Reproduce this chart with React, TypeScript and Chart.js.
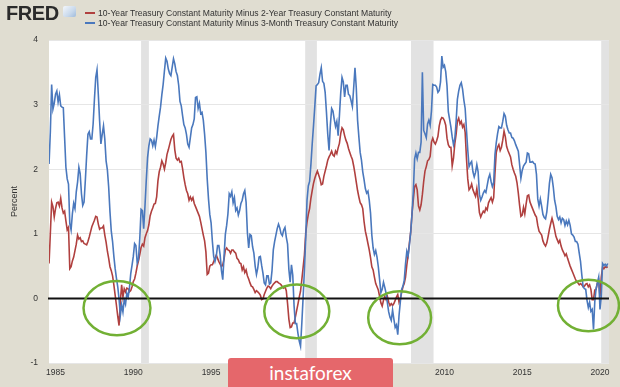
import React, { useEffect, useRef } from "react";
import { Chart, registerables } from "chart.js";

Chart.register(...registerables);

// Monthly observations starting August 1984
const START_YEAR = 1984 + 7 / 12;

const seriesNames = [
  "10-Year Treasury Constant Maturity Minus 2-Year Treasury Constant Maturity",
  "10-Year Treasury Constant Maturity Minus 3-Month Treasury Constant Maturity",
];

const spread10y2y = [
  0.54, 1.01, 1.49, 1.42, 1.26, 1.39, 1.48, 1.49, 1.43, 1.55,
  1.40, 1.32, 1.35, 1.20, 1.06, 1.10, 0.46, 0.49, 0.58, 0.64,
  0.74, 0.84, 0.98, 0.92, 0.94, 0.88, 0.89, 0.85, 0.84, 0.83,
  0.88, 0.95, 1.03, 1.11, 1.16, 1.21, 1.27, 1.26, 1.15, 1.07,
  1.09, 1.09, 1.12, 0.98, 0.87, 0.73, 0.62, 0.49, 0.43, 0.35,
  0.21, 0.05, -0.11, -0.28, -0.42, -0.04, 0.21, 0.02, 0.15, 0.10,
  0.16, 0.15, 0.10, 0.12, 0.18, 0.26, 0.30, 0.39, 0.50, 0.58,
  0.68, 0.79, 0.84, 0.81, 0.94, 1.00, 1.05, 1.14, 1.28, 1.35,
  1.40, 1.46, 1.47, 1.57, 1.82, 1.96, 2.03, 2.13, 2.08, 2.00,
  2.10, 2.23, 2.30, 2.38, 2.46, 2.51, 2.54, 2.30, 2.17, 2.14,
  2.17, 2.11, 2.12, 2.01, 1.87, 1.76, 1.67, 1.62, 1.52, 1.57,
  1.52, 1.56, 1.47, 1.42, 1.37, 1.32, 1.27, 1.18, 1.08, 0.98,
  0.89, 0.72, 0.37, 0.39, 0.50, 0.52, 0.52, 0.57, 0.62, 0.67,
  0.62, 0.57, 0.53, 0.49, 0.52, 0.61, 0.75, 0.78, 0.75, 0.74,
  0.70, 0.75, 0.75, 0.72, 0.70, 0.62, 0.60, 0.55, 0.54, 0.44,
  0.49, 0.40, 0.44, 0.35, 0.30, 0.24, 0.19, 0.18, 0.14, 0.09,
  0.12, 0.10, 0.08, 0.05, -0.02, -0.01, 0.06, 0.11, 0.16, 0.19,
  0.18, 0.15, 0.19, 0.22, 0.24, 0.26, 0.26, 0.24, 0.23, 0.21,
  0.18, 0.16, 0.18, 0.12, -0.08, -0.32, -0.45, -0.44, -0.38, -0.38,
  -0.29, -0.19, -0.09, 0.02, 0.11, 0.29, 0.48, 0.67, 1.01, 1.18,
  1.30, 1.39, 1.55, 1.67, 1.78, 1.86, 1.92, 1.97, 1.91, 1.85,
  1.76, 1.77, 1.89, 1.97, 2.05, 2.14, 2.19, 2.23, 2.28, 2.22,
  2.20, 2.28, 2.24, 2.33, 2.40, 2.55, 2.64, 2.61, 2.52, 2.45,
  2.40, 2.32, 2.26, 2.20, 2.15, 2.05, 1.93, 1.80, 1.67, 1.57,
  1.48, 1.45, 1.39, 1.19, 1.04, 0.95, 0.85, 0.75, 0.63, 0.49,
  0.44, 0.33, 0.23, 0.18, 0.13, 0.03, -0.07, -0.12, -0.03, 0.03,
  -0.02, 0.03, -0.06, -0.11, -0.08, -0.11, -0.08, -0.03, 0.02, 0.06,
  -0.06, 0.00, 0.09, 0.18, 0.23, 0.33, 0.52, 0.67, 0.86, 1.03,
  1.31, 1.53, 1.73, 1.76, 1.68, 1.43, 1.37, 1.45, 1.61, 1.81,
  1.97, 2.04, 2.13, 2.15, 2.20, 2.42, 2.48, 2.42, 2.39, 2.44,
  2.51, 2.67, 2.76, 2.80, 2.79, 2.75, 2.68, 2.48, 2.38, 2.34,
  2.34, 2.05, 2.17, 2.39, 2.54, 2.74, 2.79, 2.70, 2.74, 2.65,
  2.69, 2.57, 2.17, 1.85, 1.68, 1.71, 1.77, 1.68, 1.63, 1.58,
  1.70, 1.54, 1.33, 1.26, 1.31, 1.35, 1.33, 1.40, 1.37, 1.48,
  1.52, 1.56, 1.49, 1.56, 1.94, 2.26, 2.34, 2.38, 2.29, 2.34,
  2.45, 2.59, 2.50, 2.35, 2.29, 2.24, 2.19, 2.07, 2.00, 1.94,
  1.89, 1.79, 1.63, 1.44, 1.27, 1.29, 1.41, 1.31, 1.46, 1.59,
  1.60, 1.49, 1.44, 1.39, 1.34, 1.29, 1.26, 1.13, 1.04, 1.01,
  0.98, 0.89, 0.84, 0.81, 0.86, 0.96, 1.07, 1.16, 1.24, 1.16,
  1.06, 0.96, 0.91, 0.86, 0.90, 0.81, 0.75, 0.71, 0.66, 0.69,
  0.62, 0.56, 0.50, 0.45, 0.40, 0.35, 0.30, 0.26, 0.24, 0.21,
  0.23, 0.21, 0.18, 0.19, 0.22, 0.23, 0.18, 0.21, 0.14, -0.02,
  -0.02, 0.13, 0.14, 0.24, 0.28, 0.03, 0.33, 0.48, 0.46, 0.49,
  0.48, 0.49,
];

const spread10y3m = [
  2.08, 2.58, 3.31, 2.93, 3.02, 3.16, 3.21, 3.04, 3.15, 2.98,
  2.96, 2.95, 2.49, 2.03, 1.85, 1.77, 1.16, 1.06, 1.31, 1.47,
  1.39, 1.65, 1.80, 2.03, 1.93, 1.62, 1.44, 1.49, 1.83, 2.21,
  2.54, 2.58, 2.47, 2.47, 2.70, 3.08, 3.42, 3.54, 3.16, 2.75,
  2.39, 2.54, 2.67, 2.47, 2.13, 1.99, 1.72, 1.34, 1.04, 0.88,
  0.65, 0.46, 0.31, 0.18, -0.01, -0.26, -0.10, -0.21, -0.02, -0.09,
  0.08, 0.02, 0.16, 0.38, 0.51, 0.65, 0.85, 0.82, 0.55, 0.61,
  0.93, 1.38, 1.36, 1.08, 1.43, 1.83, 2.18, 2.36, 2.47, 2.45,
  2.36, 2.45, 2.35, 2.49, 2.67, 2.82, 2.96, 3.15, 3.31, 3.52,
  3.72, 3.67, 3.55, 3.48, 3.45, 3.58, 3.71, 3.63, 3.51, 3.45,
  3.30, 3.05, 2.98, 2.83, 2.69, 2.64, 2.54, 2.39, 2.34, 2.49,
  2.64, 2.69, 2.78, 3.11, 3.12, 2.94, 3.02, 2.86, 2.88, 2.76,
  2.54, 2.26, 1.85, 1.54, 1.30, 1.17, 0.88, 0.65, 0.57, 0.65,
  0.82, 0.82, 0.67, 0.43, 0.29, 0.65, 0.99, 1.13, 1.31, 1.62,
  1.58, 1.65, 1.48, 1.56, 1.36, 1.40, 1.29, 1.36, 1.47, 1.52,
  1.62, 1.67, 1.49, 1.02, 0.78, 0.99, 0.97, 0.80, 0.70, 0.50,
  0.37, 0.47, 0.64, 0.65, 0.51, 0.39, 0.24, 0.21, 0.35, 0.35,
  0.22, 0.24, 0.43, 0.75, 0.88, 0.98, 1.08, 1.15, 1.09, 1.00,
  0.97, 1.06, 1.10, 0.95, 0.84, 0.45, 0.25, 0.52, 0.36, -0.11,
  -0.39, -0.39, -0.54, -0.66, -0.74, -0.38, 0.02, 0.44, 0.93, 1.52,
  1.74, 1.81, 2.07, 2.39, 2.67, 2.97, 3.29, 3.31, 3.34, 3.47,
  3.57, 3.36, 3.33, 3.19, 2.88, 2.54, 2.29, 2.68, 2.94, 2.90,
  2.77, 2.66, 2.74, 2.52, 2.83, 3.18, 3.42, 3.35, 3.12, 3.30,
  3.30, 3.16, 3.14, 3.06, 2.97, 3.26, 3.57, 3.26, 2.76, 2.50,
  2.26, 2.14, 1.96, 1.84, 1.70, 1.63, 1.66, 1.52, 1.32, 0.98,
  0.78, 0.68, 0.74, 0.64, 0.49, 0.29, 0.09, 0.14, 0.25, 0.17,
  0.08, -0.07, -0.21, -0.29, -0.34, -0.18, -0.32, -0.45, -0.41, -0.56,
  -0.26, -0.05, 0.14, 0.19, 0.28, 0.54, 0.73, 0.66, 0.83, 1.03,
  1.31, 1.65, 2.16, 2.25, 2.16, 2.26, 2.26, 2.42, 3.50, 2.60,
  2.55, 2.49, 2.70, 2.76, 2.68, 2.90, 3.31, 3.30, 3.30, 3.27,
  3.19, 3.22, 3.35, 3.75, 3.58, 3.61, 3.51, 3.29, 2.89, 2.77,
  2.65, 2.50, 2.38, 2.47, 2.73, 3.08, 3.21, 3.30, 3.34, 3.24,
  3.07, 2.94, 2.61, 2.30, 2.04, 2.09, 2.12, 1.96, 1.88, 1.95,
  2.07, 1.96, 1.61, 1.52, 1.57, 1.63, 1.67, 1.64, 1.75, 1.86,
  1.92, 1.81, 1.73, 1.79, 2.23, 2.41, 2.55, 2.66, 2.64, 2.64,
  2.74, 2.86, 2.82, 2.68, 2.61, 2.56, 2.56, 2.49, 2.48, 2.44,
  2.38, 2.33, 2.28, 2.07, 1.86, 1.98, 2.05, 2.08, 2.11, 2.25,
  2.24, 2.11, 2.11, 2.12, 2.09, 2.08, 1.92, 1.54, 1.43, 1.54,
  1.43, 1.30, 1.25, 1.23, 1.34, 1.54, 1.78, 1.92, 1.87, 1.72,
  1.52, 1.42, 1.27, 1.22, 1.26, 1.17, 1.24, 1.22, 1.13, 1.20,
  1.14, 1.21, 1.13, 1.00, 0.98, 0.95, 0.88, 0.88, 0.84, 0.70,
  0.57, 0.36, 0.18, 0.15, 0.14, -0.03, -0.14, -0.06, -0.20, -0.17,
  -0.48, -0.05, 0.15, 0.24, 0.33, -0.17, 0.03, 0.54, 0.51, 0.53,
  0.50, 0.54,
];

const xTickYears = [1985, 1990, 1995, 2000, 2005, 2010, 2015, 2020];
const yTickValues = [-1, 0, 1, 2, 3, 4];

// Recession periods (decimal years)
const recessionStarts = [1990.5, 2001.05, 2007.85, 2020.08];
const recessionEnds = [1991.0, 2001.8, 2009.3, 2020.7];

// Highlight ellipses around inversions: centre year, centre value, half-width (years), half-height (pct)
const highlightYears = [1988.95, 2000.51, 2007.12, 2019.26];
const highlightValues = [-0.15, -0.2, -0.3, -0.11];
const highlightHalfWidths = [2.15, 2.09, 2.02, 1.96];
const highlightHalfHeights = [0.42, 0.415, 0.41, 0.4];

const X_MIN = 1984.58;
const X_MAX = 2020.58;

const RED = "#b0403f";
const BLUE = "#4a78bd";
const FONT = "'Liberation Sans', Arial, sans-serif";

const toPoints = (arr: number[]) =>
  arr.map((v, i) => ({ x: START_YEAR + i / 12, y: v }));

const decorPlugin = {
  id: "fredDecor",
  beforeDraw(chart: any) {
    const { ctx, chartArea, scales } = chart;
    const { left, right, top, bottom } = chartArea;
    ctx.save();
    ctx.fillStyle = "#ffffff";
    ctx.fillRect(left, top, right - left, bottom - top);
    ctx.fillStyle = "#e2e2e2";
    recessionStarts.forEach((s, i) => {
      const x1 = Math.max(left, scales.x.getPixelForValue(s));
      const x2 = Math.min(right, scales.x.getPixelForValue(recessionEnds[i]));
      if (x2 > x1) ctx.fillRect(x1, top, x2 - x1, bottom - top);
    });
    // y-axis title
    ctx.fillStyle = "#333";
    ctx.font = `9px ${FONT}`;
    ctx.textAlign = "center";
    ctx.textBaseline = "middle";
    ctx.translate(15, (top + bottom) / 2);
    ctx.rotate(-Math.PI / 2);
    ctx.fillText("Percent", 0, 0);
    ctx.restore();
  },
  afterDraw(chart: any) {
    const { ctx, chartArea, scales } = chart;
    ctx.save();
    const y0 = scales.y.getPixelForValue(0);
    ctx.strokeStyle = "#111";
    ctx.lineWidth = 2;
    ctx.beginPath();
    ctx.moveTo(chartArea.left - 1, y0);
    ctx.lineTo(chartArea.right, y0);
    ctx.stroke();

    ctx.strokeStyle = "#72b034";
    ctx.lineWidth = 2.5;
    highlightYears.forEach((yr, i) => {
      const cx = scales.x.getPixelForValue(yr);
      const cy = scales.y.getPixelForValue(highlightValues[i]);
      const rx = Math.abs(
        scales.x.getPixelForValue(yr + highlightHalfWidths[i]) - cx
      );
      const ry = Math.abs(
        scales.y.getPixelForValue(highlightValues[i] + highlightHalfHeights[i]) - cy
      );
      ctx.beginPath();
      ctx.ellipse(cx, cy, rx, ry, 0, 0, Math.PI * 2);
      ctx.stroke();
    });
    ctx.restore();
  },
};

export default function App() {
  const canvasRef = useRef<HTMLCanvasElement | null>(null);

  useEffect(() => {
    if (!canvasRef.current) return;
    const chart = new Chart(canvasRef.current, {
      type: "line",
      data: {
        datasets: [
          {
            label: seriesNames[0],
            data: toPoints(spread10y2y),
            borderColor: RED,
            borderWidth: 1.6,
            pointRadius: 0,
            tension: 0,
            order: 1,
          },
          {
            label: seriesNames[1],
            data: toPoints(spread10y3m),
            borderColor: BLUE,
            borderWidth: 1.6,
            pointRadius: 0,
            tension: 0,
            order: 0,
          },
        ],
      },
      options: {
        responsive: false,
        animation: false,
        parsing: false,
        layout: { padding: { left: 0, right: 11, top: 40, bottom: 0 } },
        plugins: {
          legend: { display: false },
          tooltip: { enabled: false },
        },
        scales: {
          x: {
            type: "linear",
            min: X_MIN,
            max: X_MAX,
            grid: { display: false, drawTicks: false },
            border: { display: false },
            afterBuildTicks: (s: any) => {
              s.ticks = xTickYears.map((v) => ({ value: v }));
            },
            afterFit: (s: any) => {
              s.height = 24;
            },
            ticks: {
              padding: 5,
              color: "#333",
              maxRotation: 0,
              autoSkip: false,
              font: { size: 8.5, family: FONT },
              callback: (v: any) => String(v),
            },
          },
          y: {
            min: -1,
            max: 4,
            grid: { color: "#e6e6e6", drawTicks: false, lineWidth: 1 },
            border: { display: false },
            afterBuildTicks: (s: any) => {
              s.ticks = yTickValues.map((v) => ({ value: v }));
            },
            afterFit: (s: any) => {
              s.width = 49;
            },
            ticks: {
              padding: 11,
              color: "#333",
              font: { size: 8.5, family: FONT },
              callback: (v: any) => String(v),
            },
          },
        },
      },
      plugins: [decorPlugin],
    });
    return () => chart.destroy();
  }, []);

  return (
    <div
      style={{
        position: "fixed",
        left: 0,
        top: 0,
        width: 620,
        height: 387,
        background: "#e0ddd1",
        overflow: "hidden",
        fontFamily: FONT,
      }}
    >
      <canvas
        ref={canvasRef}
        width={620}
        height={387}
        style={{ position: "absolute", left: 0, top: 0, width: 620, height: 387 }}
      />
      <div
        style={{
          position: "absolute",
          left: 6,
          top: 2,
          fontSize: 20,
          fontWeight: 900,
          color: "#2b2b2b",
          letterSpacing: -0.4,
          lineHeight: "22px",
        }}
      >
        FRED
      </div>
      <div
        style={{
          position: "absolute",
          left: 63,
          top: 6,
          width: 13,
          height: 11,
          borderRadius: 2,
          background: "linear-gradient(135deg, #f4f7fb 0%, #c9d9ec 60%, #9fbbdc 100%)",
        }}
      />
      <div style={{ position: "absolute", left: 85, top: 12, width: 10, height: 2, background: RED }} />
      <div style={{ position: "absolute", left: 85, top: 22, width: 10, height: 2, background: BLUE }} />
      <div
        style={{
          position: "absolute",
          left: 98,
          top: 8,
          fontSize: 8.6,
          lineHeight: "10px",
          color: "#333",
          whiteSpace: "nowrap",
        }}
      >
        <div>{seriesNames[0]}</div>
        <div>{seriesNames[1]}</div>
      </div>
      <div
        style={{
          position: "absolute",
          left: 228,
          top: 358,
          width: 165,
          height: 30,
          background: "#e5676b",
          borderRadius: "3px 3px 0 0",
          color: "#ffffff",
          fontFamily: "Lato, 'Open Sans', sans-serif",
          fontSize: 19,
          lineHeight: "29px",
          textAlign: "center",
        }}
      >
        instaforex
      </div>
    </div>
  );
}
